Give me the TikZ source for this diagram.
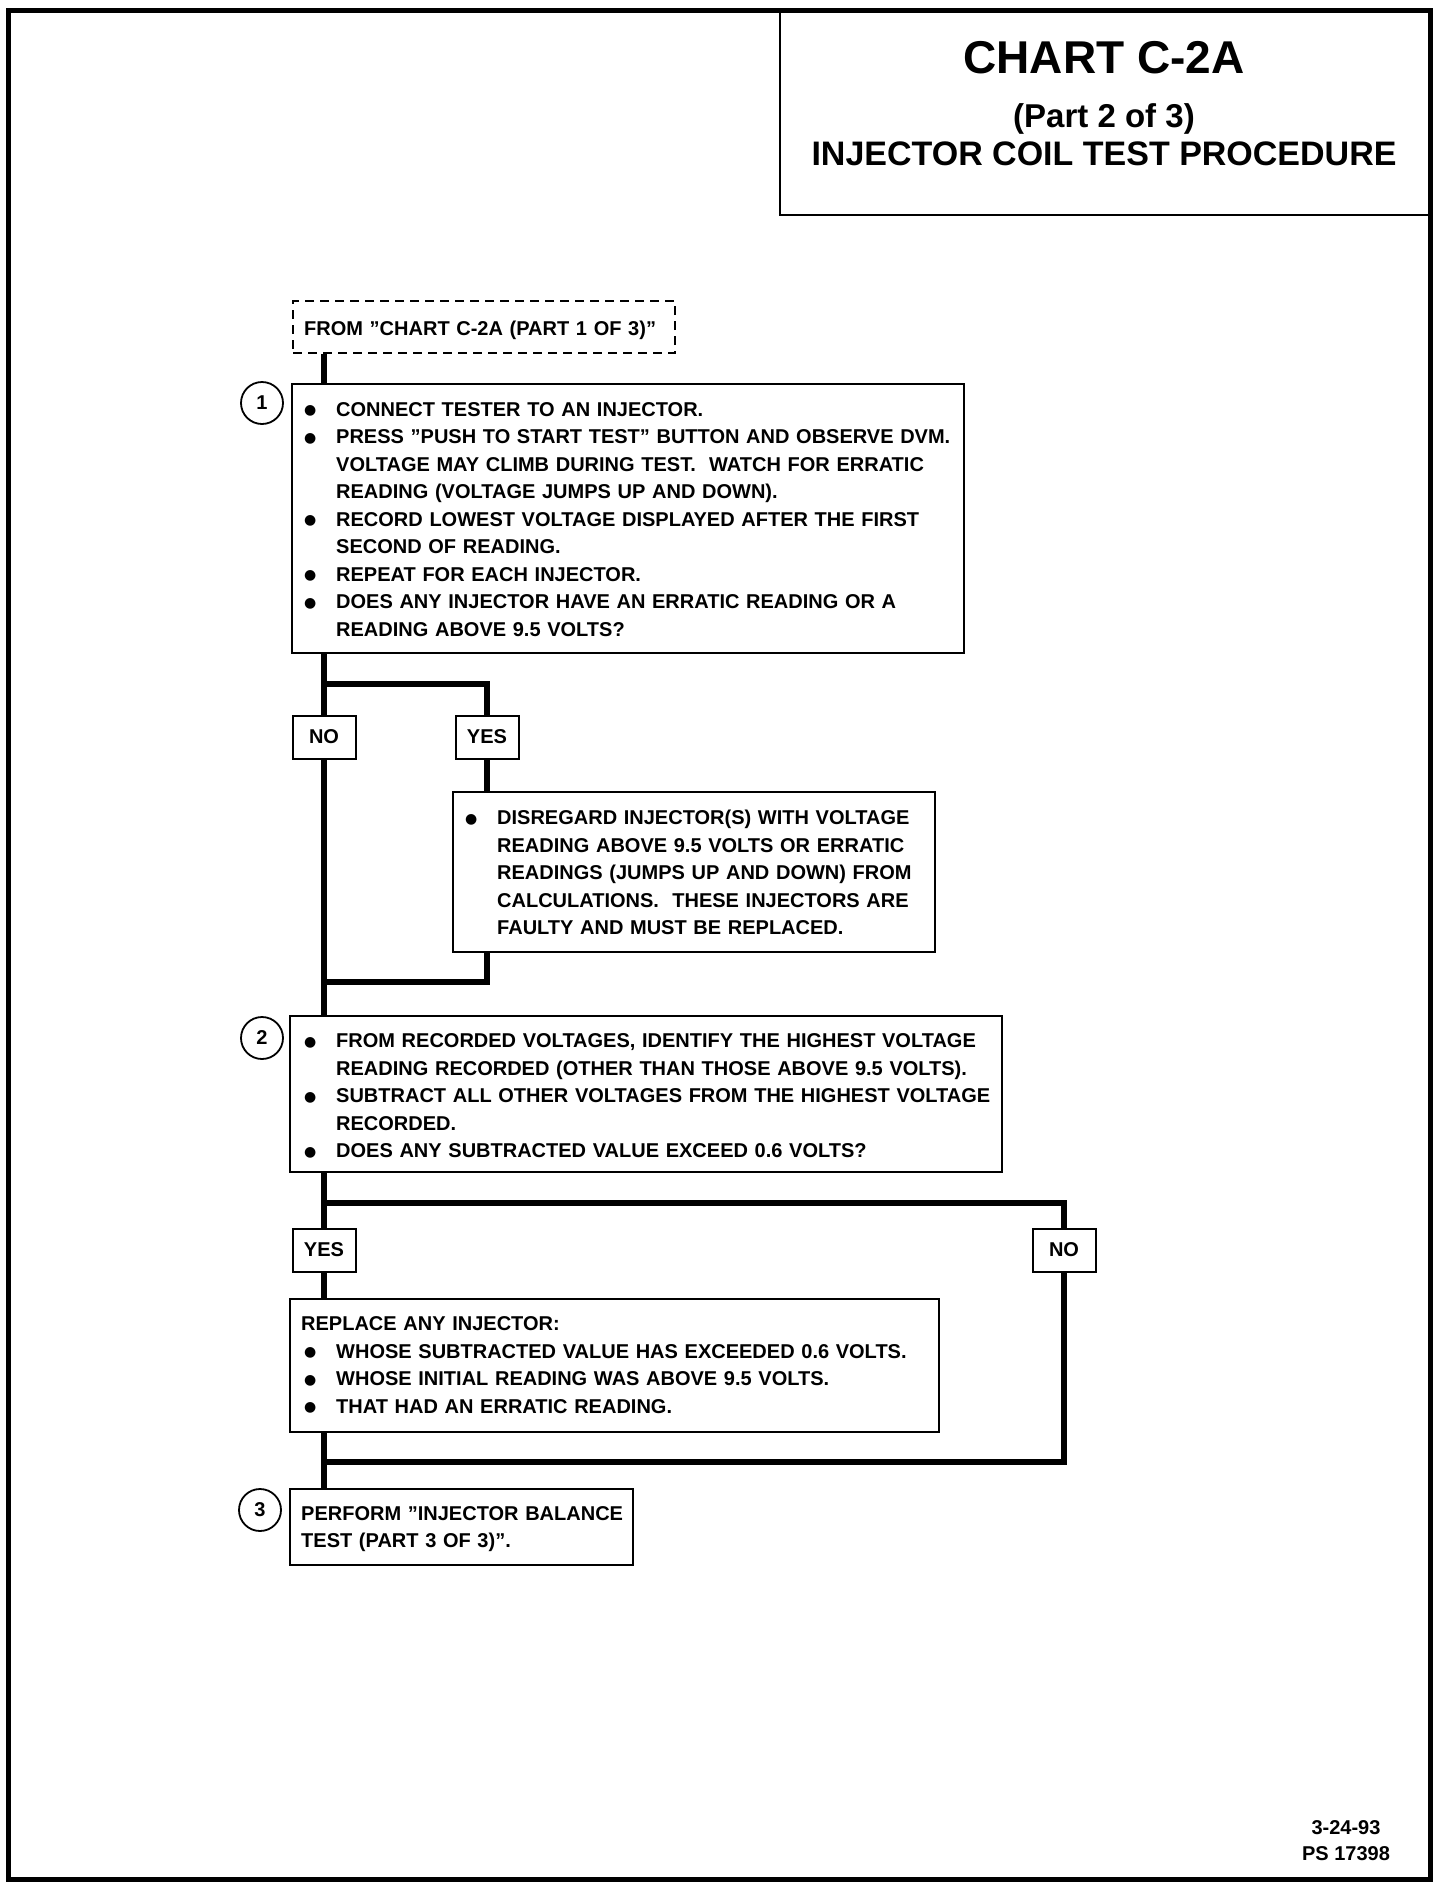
\documentclass[tikz,border=0pt]{standalone}
\usepackage{fontspec}
\setmainfont{Liberation Sans}
\newfontfamily\symfont{DejaVu Sans}
\usetikzlibrary{calc}
\newcommand\bodyf{\fontsize{20}{27.5}\selectfont\bfseries}
\newcommand\bul{\makebox[32pt][l]{\smash{\raisebox{1.5pt}{\symfont\fontsize{14}{14}\selectfont ●}}}}
\newcommand\ind{\hspace*{32pt}}
\newcommand\fl{\rule{0pt}{15pt}}
\begin{document}
\begin{tikzpicture}[x=1pt,y=-1pt,
  frame/.style={draw, line width=5pt},
  box/.style={draw, line width=2pt, inner sep=0pt},
  lbl/.style={draw, line width=2pt, inner sep=0pt, minimum width=63pt, minimum height=43pt, font=\bodyf},
  txt/.style={anchor=north west, inner sep=0pt, align=left, font=\bodyf, text width=700pt},
  conn/.style={line width=6pt},
  num/.style={draw, circle, line width=1.8pt, minimum size=42pt, inner sep=0pt, font=\bodyf}]
\useasboundingbox (0,0) rectangle (1456,1890);
\fill[white] (0,0) rectangle (1456,1890);
% frame and title
\draw[frame] (8,10) rectangle (1430,1879);
\draw[line width=2.5pt] (780,10) rectangle (1430,215);
\node[anchor=base, inner sep=0pt, font=\fontsize{46}{46}\selectfont\bfseries] (t1) at (1104,73) {CHART C-2A};
\node[anchor=base, inner sep=0pt, font=\fontsize{33}{33}\selectfont\bfseries] (t2) at (1104,127) {(Part 2 of 3)};
\node[anchor=base, inner sep=0pt, font=\fontsize{34}{34}\selectfont\bfseries] (t3) at (1104,165) {INJECTOR COIL TEST PROCEDURE};
% spine and junctions
\coordinate (sp) at (324,0);
\coordinate (j1) at (324,684);
\coordinate (j2) at (324,982);
\coordinate (j3) at (324,1203);
\coordinate (j4) at (324,1462);
% from box
\node[box, dashed, dash pattern=on 9pt off 6pt, line width=1.5pt, minimum width=382pt, minimum height=52pt] (from) at (484,327) {};
\node[txt] (fromt) at (304,320) {\fl FROM "CHART C-2A (PART 1 OF 3)"};
% box 1
\node[box, minimum width=672pt, minimum height=269pt] (b1) at (628,518.5) {};
\node[txt] (b1t) at (304,401) {\fl\bul CONNECT TESTER TO AN INJECTOR.\\
\bul PRESS "PUSH TO START TEST" BUTTON AND OBSERVE DVM.\\
\ind VOLTAGE MAY CLIMB DURING TEST.\ \ WATCH FOR ERRATIC\\
\ind READING (VOLTAGE JUMPS UP AND DOWN).\\
\bul RECORD LOWEST VOLTAGE DISPLAYED AFTER THE FIRST\\
\ind SECOND OF READING.\\
\bul REPEAT FOR EACH INJECTOR.\\
\bul DOES ANY INJECTOR HAVE AN ERRATIC READING OR A\\
\ind READING ABOVE 9.5 VOLTS?};
\node[num] (n1) at (262,403) {1};
% labels 1
\node[lbl] (no1) at (324,737) {NO};
\node[lbl] (yes1) at (487,737) {YES};
% disregard box
\node[box, minimum width=482pt, minimum height=160pt] (dis) at (694,872) {};
\node[txt] (dist) at (465,809.5) {\fl\bul DISREGARD INJECTOR(S) WITH VOLTAGE\\
\ind READING ABOVE 9.5 VOLTS OR ERRATIC\\
\ind READINGS (JUMPS UP AND DOWN) FROM\\
\ind CALCULATIONS.\ \ THESE INJECTORS ARE\\
\ind FAULTY AND MUST BE REPLACED.};
% box 2
\node[box, minimum width=712pt, minimum height=156pt] (b2) at (646,1094) {};
\node[txt] (b2t) at (304,1032.5) {\fl\bul FROM RECORDED VOLTAGES, IDENTIFY THE HIGHEST VOLTAGE\\
\ind READING RECORDED (OTHER THAN THOSE ABOVE 9.5 VOLTS).\\
\bul SUBTRACT ALL OTHER VOLTAGES FROM THE HIGHEST VOLTAGE\\
\ind RECORDED.\\
\bul DOES ANY SUBTRACTED VALUE EXCEED 0.6 VOLTS?};
\node[num] (n2) at (262,1038) {2};
% labels 2
\node[lbl] (yes2) at (324,1250) {YES};
\node[lbl] (no2) at (1064,1250) {NO};
% replace box
\node[box, minimum width=649pt, minimum height=133pt] (rep) at (614.5,1365.5) {};
\node[txt] (rept) at (301,1315.7) {\fl REPLACE ANY INJECTOR:\\
\hspace*{3pt}\bul WHOSE SUBTRACTED VALUE HAS EXCEEDED 0.6 VOLTS.\\
\hspace*{3pt}\bul WHOSE INITIAL READING WAS ABOVE 9.5 VOLTS.\\
\hspace*{3pt}\bul THAT HAD AN ERRATIC READING.};
% box 3
\node[box, minimum width=343pt, minimum height=76pt] (b3) at (461.5,1527) {};
\node[txt] (b3t) at (301,1505) {\fl PERFORM "INJECTOR BALANCE\\
TEST (PART 3 OF 3)".};
\node[num] (n3) at (260,1510) {3};
% footer
\node[anchor=base, inner sep=0pt, font=\bodyf] (d1) at (1346,1834.5) {3-24-93};
\node[anchor=base, inner sep=0pt, font=\bodyf] (d2) at (1346,1860) {PS 17398};
% connectors
\draw[conn] (from.south -| sp) -- (b1.north -| sp);
\draw[conn] (b1.south -| sp) -- (no1.north);
\draw[conn] (j1) -| (yes1.north);
\draw[conn] (yes1.south) -- (yes1.south |- dis.north);
\draw[conn] (yes1.south |- dis.south) |- (j2);
\draw[conn] (no1.south) -- (b2.north -| sp);
\draw[conn] (b2.south -| sp) -- (yes2.north);
\draw[conn] (j3) -| (no2.north);
\draw[conn] (yes2.south) -- (rep.north -| yes2);
\draw[conn] (rep.south -| sp) -- (b3.north -| sp);
\draw[conn] (no2.south) |- (j4);
\end{tikzpicture}
\end{document}
